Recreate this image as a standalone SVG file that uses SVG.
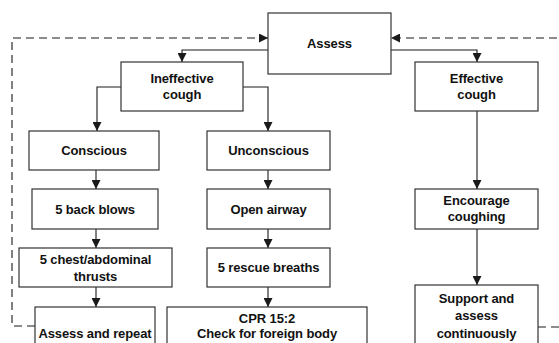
<svg xmlns="http://www.w3.org/2000/svg" width="559" height="343" viewBox="0 0 559 343">
<style>
.box{fill:#fff;stroke:#333;stroke-width:1.2}
.t{font-family:"Liberation Sans",Arial,Helvetica,sans-serif;font-weight:bold;font-size:13px;fill:#111;text-anchor:middle;letter-spacing:-0.1px}
.c{fill:none;stroke:#1a1a1a;stroke-width:1.1}
.d{fill:none;stroke:#1a1a1a;stroke-width:1.1;stroke-dasharray:8 5}
</style>
<defs>
<marker id="ah" markerUnits="userSpaceOnUse" markerWidth="9" markerHeight="9" viewBox="0 0 9 9" refX="9" refY="4.5" orient="auto">
<path d="M0,0 L9,4.5 L0,9 z" fill="#1a1a1a"/>
</marker>
</defs>
<rect width="559" height="343" fill="#fff"/>
<g id="connectors">
<path class="c" d="M268,50 H182 V62" marker-end="url(#ah)"/>
<path class="c" d="M391,50 H477 V62" marker-end="url(#ah)"/>
<path class="c" d="M121,87 H97 V131" marker-end="url(#ah)"/>
<path class="c" d="M243,87 H268 V131" marker-end="url(#ah)"/>
<path class="c" d="M96,170 V189" marker-end="url(#ah)"/>
<path class="c" d="M96,229 V248" marker-end="url(#ah)"/>
<path class="c" d="M96,287 V307" marker-end="url(#ah)"/>
<path class="c" d="M268,170 V189" marker-end="url(#ah)"/>
<path class="c" d="M268,229 V248" marker-end="url(#ah)"/>
<path class="c" d="M268,287 V307" marker-end="url(#ah)"/>
<path class="c" d="M477,111 V189" marker-end="url(#ah)"/>
<path class="c" d="M477,229 V285" marker-end="url(#ah)"/>
<path class="d" d="M35,326 H12 V38 H268" marker-end="url(#ah)"/>
<path class="d" d="M538,327 H572 V38 H391" marker-end="url(#ah)"/>
</g>
<g id="assess">
<rect class="box" x="268" y="13" width="123" height="61"/>
<text class="t" x="329.5" y="48">Assess</text>
</g>
<g id="ineffective">
<rect class="box" x="121" y="62" width="122" height="49"/>
<text class="t" x="182" y="82.5">Ineffective</text>
<text class="t" x="182" y="98.5">cough</text>
</g>
<g id="effective">
<rect class="box" x="415" y="62" width="123" height="49"/>
<text class="t" x="476.5" y="82.5">Effective</text>
<text class="t" x="476.5" y="98.5">cough</text>
</g>
<g id="conscious">
<rect class="box" x="29" y="131" width="130" height="39"/>
<text class="t" x="94" y="155">Conscious</text>
</g>
<g id="unconscious">
<rect class="box" x="207" y="131" width="123" height="39"/>
<text class="t" x="268.5" y="155">Unconscious</text>
</g>
<g id="backblows">
<rect class="box" x="32" y="189" width="126" height="40"/>
<text class="t" x="95" y="214">5 back blows</text>
</g>
<g id="openairway">
<rect class="box" x="207" y="189" width="123" height="40"/>
<text class="t" x="268.5" y="214">Open airway</text>
</g>
<g id="encourage">
<rect class="box" x="415" y="189" width="123" height="40"/>
<text class="t" x="476.5" y="205">Encourage</text>
<text class="t" x="476.5" y="221">coughing</text>
</g>
<g id="thrusts">
<rect class="box" x="19" y="248" width="153" height="39"/>
<text class="t" x="95.5" y="264">5 chest/abdominal</text>
<text class="t" x="95.5" y="280.5">thrusts</text>
</g>
<g id="rescue">
<rect class="box" x="207" y="248" width="123" height="39"/>
<text class="t" x="268.5" y="272">5 rescue breaths</text>
</g>
<g id="assessrepeat">
<rect class="box" x="35" y="307" width="120" height="55"/>
<text class="t" x="95" y="337.5">Assess and repeat</text>
</g>
<g id="cpr">
<rect class="box" x="167" y="307" width="200" height="55"/>
<text class="t" x="267" y="322.5">CPR 15:2</text>
<text class="t" x="267" y="338">Check for foreign body</text>
</g>
<g id="support">
<rect class="box" x="415" y="285" width="123" height="77"/>
<text class="t" x="476.5" y="302.5">Support and</text>
<text class="t" x="476.5" y="320">assess</text>
<text class="t" x="476.5" y="337.5">continuously</text>
</g>
</svg>
